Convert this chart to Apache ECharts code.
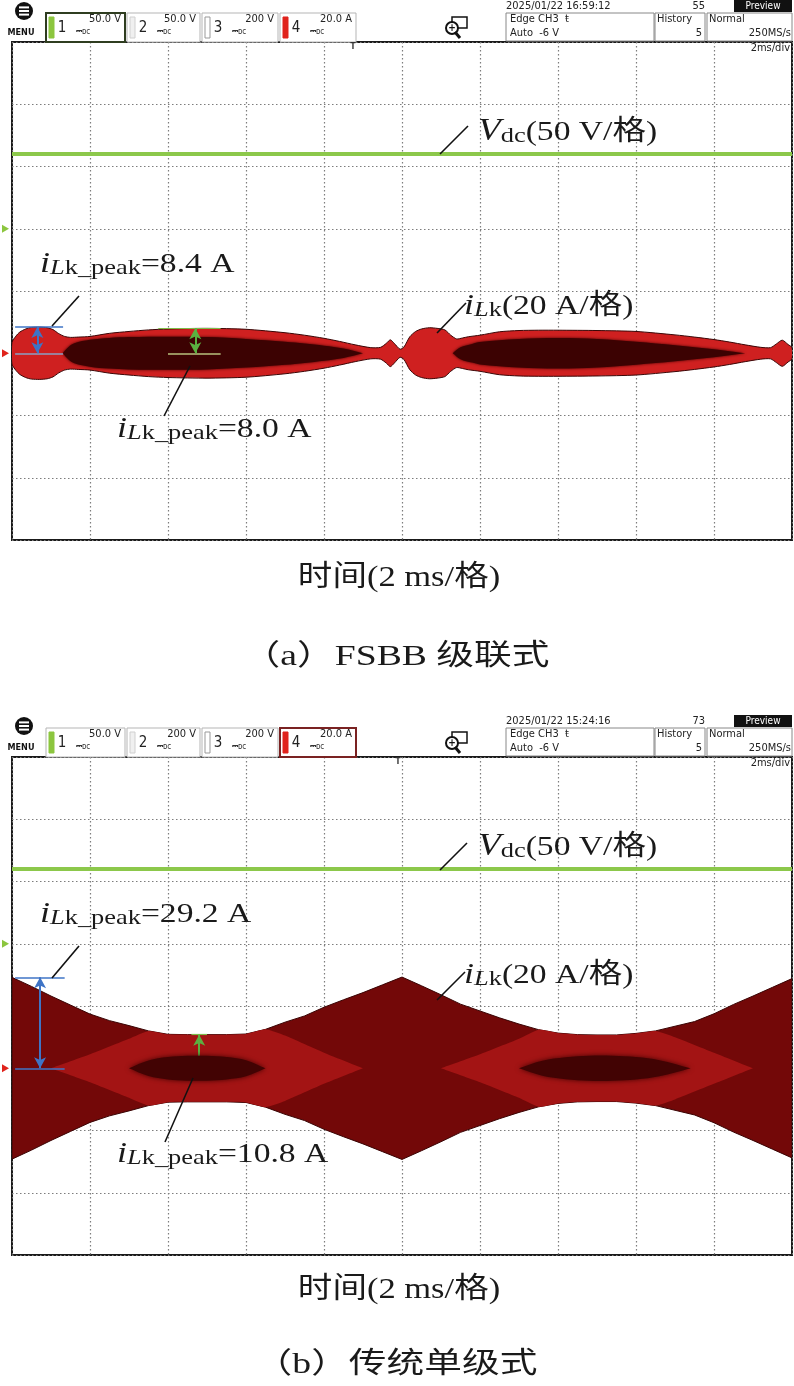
<!DOCTYPE html>
<html><head><meta charset="utf-8">
<script src="https://cdn.jsdelivr.net/npm/echarts@6/dist/echarts.min.js"></script>
<style>html,body{margin:0;padding:0;background:#fff}#c{width:794px;height:1386px}</style>
</head><body><div id="c"></div>
<script>
// ================= DATA =================
// time axis: 0..20 ms, 2 ms/div
const timeMin = 0, timeMax = 20, timeStep = 2;
// Panel (a) FSBB cascade — iLk envelope (A) vs time (ms)
const tOuterA = [0,0.1,0.2,0.35,0.5,0.7,0.9,1.05,1.2,1.35,1.5,1.7,2.0,2.5,3.0,3.5,4.0,5.0,6.0,7.0,7.5,8.0,8.4,8.8,9.2,9.45,9.6,9.7,9.8,9.95,10.05,10.2,10.35,10.5,10.7,10.9,11.1,11.25,11.4,11.55,11.7,12.0,12.5,13.0,13.5,14.0,15.0,16.0,17.0,17.5,18.0,18.4,18.8,19.2,19.45,19.6,19.75,19.9,20.0];
const iOuterA = [3.5,5.5,6.8,7.8,8.3,8.4,8.2,7.6,6.3,5.4,5.1,5.2,5.4,6.4,7.0,7.5,7.8,8.0,7.7,6.6,5.8,4.8,3.8,2.7,1.8,1.9,3.2,4.3,3.2,1.3,2.0,5.3,7.0,7.8,8.2,8.0,7.5,5.8,4.6,4.9,5.3,5.8,6.9,7.3,7.4,7.4,7.3,7.0,5.9,5.2,4.4,3.6,2.7,1.9,1.8,3.0,4.2,2.8,1.8];
const tLensA1 = [1.3,1.45,1.6,2.0,2.5,3.0,4.0,5.0,6.0,7.0,7.5,8.0,8.5,9.0];
const iLensA1 = [0,2.0,3.2,4.3,4.9,5.2,5.3,5.2,4.6,3.7,3.1,2.4,1.5,0];
const tLensA2 = [11.3,11.5,11.8,12.0,13.0,14.0,15.0,16.0,17.0,18.0,18.8];
const iLensA2 = [0,1.9,3.0,3.6,4.6,4.9,4.6,3.7,2.6,1.3,0];
const tVdcA = [0, 20];
const vVdcA = [60, 60];
const peakA = [8.4, 8.0];          // annotated peaks (A)
const peakTimeA = [0.65, 4.7];     // where they are measured (ms)

// Panel (b) conventional single stage
const tOuterB = [0,0.5,1,1.5,2,2.5,3,3.5,4,4.5,5,5.5,6,6.5,7,7.5,8,8.5,9,9.5,10,10.5,11,11.5,12,12.5,13,13.5,14,14.5,15,15.5,16,16.5,17,17.5,18,18.5,19,19.5,20];
const iOuterB = [29.2,26.3,23.2,20.3,17.4,15.3,13.7,12.0,10.9,10.8,10.8,10.8,11.0,12.5,14.8,16.8,19.6,22.0,24.3,26.8,29.3,26.5,23.6,20.6,18.4,16.2,14.2,12.4,11.3,10.8,10.7,10.7,11.2,12.0,13.5,15.0,17.5,20.5,23.2,26.0,28.8];
const tBrightB1 = [1.0,2.0,3.0,3.5,4.0,4.5,5.0,5.5,6.0,6.5,7.0,8.0,9.0];
const iBrightB1 = [0,4.5,9.5,12.0,10.9,10.8,10.8,10.8,11.0,12.5,10.5,5.0,0];
const tBrightB2 = [11.0,12.0,13.0,13.5,14.0,14.5,15.0,15.5,16.0,16.5,17.0,18.0,19.0];
const iBrightB2 = [0,4.5,9.5,12.4,11.3,10.8,10.7,10.7,11.2,12.0,10.0,5.0,0];
const tLensB1 = [3.0,3.5,4.0,4.5,5.0,5.5,6.0,6.5];
const iLensB1 = [0,2.5,3.6,4.0,4.0,3.6,2.6,0];
const tLensB2 = [13.0,13.6,14.2,14.8,15.4,16.0,16.6,17.4];
const iLensB2 = [0,2.4,3.5,4.0,4.0,3.6,2.6,0];
const tVdcB = [0, 20];
const vVdcB = [60, 60];
const peakB = [29.2, 10.8];
const peakTimeB = [0.72, 4.8];

// ================= HELPERS =================
const SERIF = "'Liberation Serif','Noto Sans CJK SC'";
const SANS = "'DejaVu Sans Condensed','Liberation Sans','DejaVu Sans'";
const pairs = (t, v) => t.map((x, i) => [x, v[i]]);

// symmetric envelope (±amp) drawn as one polygon through the axes' scales
function envelope(gi, yi, t, amp, fill, stroke, lw, z, smooth, blur) {
  return {
    type:'custom', xAxisIndex:gi, yAxisIndex:yi, z:z, silent:true, clip:true,
    data:[[t[0], 0]],
    renderItem:(params, api) => {
      const up = t.map((x, i) => api.coord([x, amp[i]]));
      const lo = t.map((x, i) => api.coord([x, -amp[i]])).reverse();
      const style = {fill:fill, stroke:stroke, lineWidth:lw};
      if (blur) { style.shadowBlur = blur; style.shadowColor = fill; }
      return {type:'polygon', shape:{points:up.concat(lo), smooth:smooth}, style:style};
    }
  };
}

function markers(gi, yi, peaks, times, cfg) {
  const L = (a, b, style, s1, s2) => [
    Object.assign({coord:a, lineStyle:style}, s1 ? {symbol:s1} : {}),
    Object.assign({coord:b}, s2 ? {symbol:s2} : {})
  ];
  return {
    type:'line', xAxisIndex:gi, yAxisIndex:yi, data:[[times[0],0]], symbol:'none', lineStyle:{width:0}, z:20,
    markLine:{silent:true, animation:false, symbol:'none', symbolSize:[9,11], label:{show:false},
      data:[
        L([cfg.b0, peaks[0]], [cfg.b1, peaks[0]], {color:'#3f74c6', width:1.6, type:'solid'}),
        L([cfg.b0, 0], [cfg.b1, 0], {color:cfg.bzero, width:1.6, type:'solid'}),
        L([times[0], 0], [times[0], peaks[0]], {color:'#3f74c6', width:2, type:'solid'}, 'arrow', 'arrow'),
        L([cfg.g0, 0], [cfg.g1, 0], {color:'#b9c27e', width:1.6, type:'solid'}),
        L([cfg.gt0, peaks[1]], [cfg.gt1, peaks[1]], {color:'#7dbb4a', width:1.2, type:'solid'}),
        L([times[1], 0], [times[1], peaks[1]], {color:'#5bb040', width:2, type:'solid'}, 'arrow', 'arrow')
      ]}
  };
}

function headerEls(oy, cfg) {
  const E = [];
  E.push({type:'circle', shape:{cx:24, cy:oy+11, r:9}, style:{fill:'#111'}});
  [-3.6, 0, 3.6].forEach(k => E.push({type:'rect', shape:{x:19, y:oy+10+k, width:10, height:2}, style:{fill:'#fff'}}));
  E.push({type:'text', x:21, y:oy+33, style:{text:'MENU', font:'bold 9px '+SANS, fill:'#111', align:'center', verticalAlign:'middle'}});
  const boxes = [{x:46,w:79},{x:127,w:73},{x:202,w:76},{x:280,w:76}];
  boxes.forEach((b, i) => {
    const hl = cfg.hl === i;
    E.push({type:'rect', shape:{x:b.x, y:oy+13, width:b.w, height:29},
      style:{fill:'#fff', stroke: hl ? cfg.hlColor : '#b5b5b5', lineWidth: hl ? 2 : 1}});
    const bar = cfg.bars[i];
    E.push({type:'rect', shape:{x:b.x+3, y:oy+17, width:5, height:21},
      style:{fill:bar.fill, stroke:bar.stroke, lineWidth:1}});
    E.push({type:'text', x:b.x+16, y:oy+28, style:{text:String(i+1), font:'15px '+SANS, fill:'#222', align:'center', verticalAlign:'middle'}});
    E.push({type:'text', x:b.x+b.w-4, y:oy+19, style:{text:cfg.scales[i], font:'11px '+SANS, fill:'#222', align:'right', verticalAlign:'middle'}});
    E.push({type:'text', x:b.x+30, y:oy+32, style:{text:'⎓ᴅᴄ', font:'8px '+SANS, fill:'#333', align:'left', verticalAlign:'middle'}});
  });
  E.push({type:'rect', shape:{x:452, y:oy+17, width:15, height:11}, style:{fill:'none', stroke:'#111', lineWidth:1.5}});
  E.push({type:'circle', shape:{cx:452, cy:oy+28, r:6}, style:{fill:'#fff', stroke:'#111', lineWidth:2}});
  E.push({type:'line', shape:{x1:455, y1:oy+32, x2:460, y2:oy+38}, style:{stroke:'#111', lineWidth:3}});
  E.push({type:'text', x:452, y:oy+28, style:{text:'+', font:'bold 10px '+SANS, fill:'#111', align:'center', verticalAlign:'middle'}});
  E.push({type:'text', x:506, y:oy+6, style:{text:cfg.date, font:'11px '+SANS, fill:'#222', align:'left', verticalAlign:'middle'}});
  E.push({type:'text', x:705, y:oy+6, style:{text:cfg.count, font:'11px '+SANS, fill:'#222', align:'right', verticalAlign:'middle'}});
  E.push({type:'rect', shape:{x:734, y:oy, width:58, height:12}, style:{fill:'#111'}});
  E.push({type:'text', x:763, y:oy+6, style:{text:'Preview', font:'10px '+SANS, fill:'#fff', align:'center', verticalAlign:'middle'}});
  E.push({type:'rect', shape:{x:506, y:oy+13, width:148, height:28}, style:{fill:'#fff', stroke:'#888', lineWidth:1}});
  E.push({type:'rect', shape:{x:655, y:oy+13, width:50, height:28}, style:{fill:'#fff', stroke:'#888', lineWidth:1}});
  E.push({type:'rect', shape:{x:707, y:oy+13, width:85, height:28}, style:{fill:'#fff', stroke:'#888', lineWidth:1}});
  const t = (x, y, s, al) => E.push({type:'text', x:x, y:oy+y, style:{text:s, font:'11px '+SANS, fill:'#222', align:al||'left', verticalAlign:'middle'}});
  t(510, 19, 'Edge CH3  ŧ'); t(510, 33, 'Auto  -6 V');
  t(657, 19, 'History'); t(702, 33, '5', 'right');
  t(709, 19, 'Normal'); t(791, 33, '250MS/s', 'right');
  t(790, 48, '2ms/div', 'right');
  E.push({type:'text', x:cfg.trig, y:oy+47, style:{text:'T', font:'bold 8px '+SANS, fill:'#333', align:'center', verticalAlign:'middle'}});
  return E;
}

const richAnn = {
  it:  {fontFamily:SERIF, fontStyle:'italic', fontSize:30, lineHeight:46, verticalAlign:'bottom'},
  rm:  {fontFamily:SERIF, fontSize:28, lineHeight:46, verticalAlign:'bottom'},
  sit: {fontFamily:SERIF, fontStyle:'italic', fontSize:22, lineHeight:26, verticalAlign:'bottom'},
  sub: {fontFamily:SERIF, fontSize:22, lineHeight:26, verticalAlign:'bottom'},
  sub2:{fontFamily:SERIF, fontSize:22, lineHeight:20, verticalAlign:'bottom'},
  V:   {fontFamily:SERIF, fontStyle:'italic', fontSize:31, lineHeight:46, verticalAlign:'bottom'}
};
function ann(x, yTop, txt) {
  return {type:'text', x:x, y:yTop, scaleX:1.2, z:100,
    style:{text:txt, rich:richAnn, fill:'#1a1a1a', align:'left', verticalAlign:'top'}};
}
function leader(x1, y1, x2, y2) {
  return {type:'line', z:100, shape:{x1, y1, x2, y2}, style:{stroke:'#111', lineWidth:1.6}};
}
function bigText(cx, cy, s, size, sx) {
  return {type:'text', x:cx, y:cy, scaleX:sx, z:100,
    style:{text:s, font:size+'px '+SERIF, fill:'#1a1a1a', align:'center', verticalAlign:'middle'}};
}

// ================= CHART =================
const chart = echarts.init(document.getElementById('c'), null, {renderer:'canvas', width:794, height:1386});
const gridLine = {show:true, lineStyle:{color:'#7d7d7d', width:1.2, type:[1.5, 2.5]}};
const grids = [
  {left:12, top:42, width:780, height:498},
  {left:12, top:757, width:780, height:498}
].map(g => Object.assign(g, {show:true, borderColor:'#1a1a1a', borderWidth:2, backgroundColor:'#fff'}));

const xAxes = [0, 1].map(i => ({type:'value', gridIndex:i, min:timeMin, max:timeMax, interval:timeStep,
  axisLine:{show:false}, axisTick:{show:false}, axisLabel:{show:false}, splitLine:gridLine}));
const yAxes = [];
[0, 1].forEach(i => {
  yAxes.push({type:'value', gridIndex:i, min:-4, max:4, interval:1, axisLine:{show:false}, axisTick:{show:false}, axisLabel:{show:false}, splitLine:gridLine});
  yAxes.push({type:'value', gridIndex:i, min:-60, max:100, show:false, splitLine:{show:false}});   // 20 A/div
  yAxes.push({type:'value', gridIndex:i, min:-250, max:150, show:false, splitLine:{show:false}});  // 50 V/div
});

const series = [
  envelope(0, 1, tOuterA, iOuterA, '#cf2020', '#3a0606', 1, 3, 0.25),
  envelope(0, 1, tLensA1, iLensA1, '#3c0202', null, 0, 4, 0.35, 3),
  envelope(0, 1, tLensA2, iLensA2, '#3c0202', null, 0, 4, 0.35, 3),
  {type:'line', xAxisIndex:0, yAxisIndex:2, data:pairs(tVdcA, vVdcA), symbol:'none', lineStyle:{color:'#8cc84b', width:4}, z:6},
  markers(0, 1, peakA, peakTimeA, {b0:0.08, b1:1.31, bzero:'#8aa0c4', g0:4.0, g1:5.35, gt0:3.75, gt1:5.35}),

  envelope(1, 4, tOuterB, iOuterB, '#730808', '#3a0404', 1, 3, 0),
  envelope(1, 4, tBrightB1, iBrightB1, '#a31414', null, 0, 4, 0.15),
  envelope(1, 4, tBrightB2, iBrightB2, '#a31414', null, 0, 4, 0.15),
  envelope(1, 4, tLensB1, iLensB1, '#420303', null, 0, 5, 0.35, 5),
  envelope(1, 4, tLensB2, iLensB2, '#420303', null, 0, 5, 0.35, 5),
  {type:'line', xAxisIndex:1, yAxisIndex:5, data:pairs(tVdcB, vVdcB), symbol:'none', lineStyle:{color:'#8cc84b', width:4}, z:6},
  markers(1, 4, peakB, peakTimeB, {b0:0.08, b1:1.35, bzero:'#3f74c6', g0:4.2, g1:5.55, gt0:4.6, gt1:5.0})
];

const graphics = [].concat(
  headerEls(0, {date:'2025/01/22 16:59:12', count:'55', hl:0, hlColor:'#2f3d20', trig:353,
    scales:['50.0 V','50.0 V','200 V','20.0 A'],
    bars:[{fill:'#8cc63f',stroke:'#8cc63f'},{fill:'#f0f0f0',stroke:'#d0d0d0'},{fill:'#fff',stroke:'#999'},{fill:'#e0231c',stroke:'#e0231c'}]}),
  headerEls(715, {date:'2025/01/22 15:24:16', count:'73', hl:3, hlColor:'#7a2222', trig:398,
    scales:['50.0 V','200 V','200 V','20.0 A'],
    bars:[{fill:'#8cc63f',stroke:'#8cc63f'},{fill:'#f0f0f0',stroke:'#d0d0d0'},{fill:'#fff',stroke:'#999'},{fill:'#e0231c',stroke:'#e0231c'}]}),
  [
    ann(478, 101, '{V|V}{sub2|dc}{rm|(50 V/格)}'), leader(440, 154, 468, 126),
    ann(464, 275, '{it|i}{sit|L}{sub|k}{rm|(20 A/格)}'), leader(437, 333, 466, 303),
    ann(40, 233, '{it|i}{sit|L}{sub|k_peak}{rm|=8.4 A}'), leader(52, 326, 79, 296),
    ann(117, 398, '{it|i}{sit|L}{sub|k_peak}{rm|=8.0 A}'), leader(164, 416, 190, 366),
    bigText(399, 578, '时间(2 ms/格)', 29, 1.19),
    bigText(396, 657, '（a）FSBB 级联式', 29, 1.3),
    ann(478, 816, '{V|V}{sub2|dc}{rm|(50 V/格)}'), leader(440, 870, 467, 843),
    ann(464, 944, '{it|i}{sit|L}{sub|k}{rm|(20 A/格)}'), leader(437, 1000, 465, 972),
    ann(40, 883, '{it|i}{sit|L}{sub|k_peak}{rm|=29.2 A}'), leader(52, 978, 79, 946),
    ann(117, 1123, '{it|i}{sit|L}{sub|k_peak}{rm|=10.8 A}'), leader(165, 1142, 193, 1078),
    bigText(399, 1290, '时间(2 ms/格)', 29, 1.19),
    bigText(396, 1365, '（b）传统单级式', 29, 1.3)
  ]
);

chart.setOption({
  animation:false,
  backgroundColor:'#fff',
  grid:grids, xAxis:xAxes, yAxis:yAxes, series:series, graphic:graphics
});

// channel ground-level markers on the left edge, positioned through the axes
const sideMarks = [];
[[2, 1], [5, 4]].forEach(([vIdx, iIdx]) => {
  const yv = chart.convertToPixel({yAxisIndex:vIdx}, 0);
  const yi = chart.convertToPixel({yAxisIndex:iIdx}, 0);
  sideMarks.push({type:'polygon', shape:{points:[[2, yv-4],[9, yv],[2, yv+4]]}, style:{fill:'#8cc63f'}});
  sideMarks.push({type:'polygon', shape:{points:[[2, yi-4],[9, yi],[2, yi+4]]}, style:{fill:'#e0231c'}});
});
chart.setOption({graphic:graphics.concat(sideMarks)}, {replaceMerge:['graphic']});
</script>
</body></html>
